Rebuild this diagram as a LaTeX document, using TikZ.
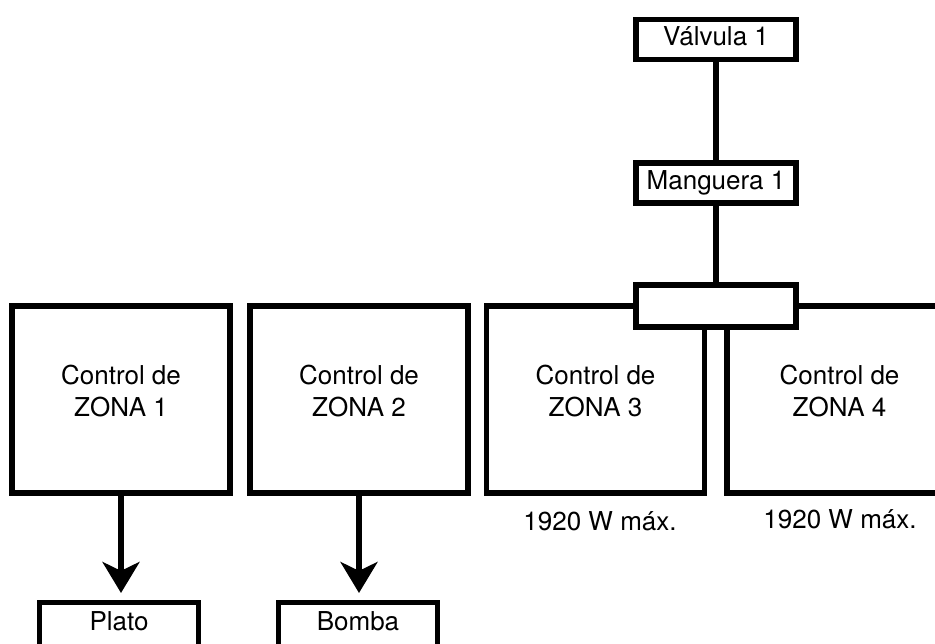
\documentclass[tikz,border=0pt]{standalone}
\usepackage{fontspec}
\setmainfont{TeX Gyre Heros}
\usetikzlibrary{arrows.meta}

\begin{document}
\begin{tikzpicture}[
  x=0.02cm, y=-0.02cm,
  font=\fontsize{14.8}{18.2}\selectfont,
  zonebox/.style ={draw, line width=3.1pt, fill=white, minimum width=4.36cm,
                   minimum height=3.74cm, align=center, text depth=0.34cm},
  smallbox/.style={draw, line width=3.1pt, fill=white, minimum width=3.2cm,
                   minimum height=0.8cm, inner sep=0pt,
                   text height=10.7pt, text depth=0.12cm},
  endbox/.style  ={draw, line width=3.1pt, fill=white, anchor=north,
                   minimum width=3.18cm, inner xsep=0pt, inner ysep=0.17cm,
                   text height=10.7pt, text depth=0.8cm},
  note/.style    ={anchor=base},
  conn/.style    ={line width=3.1pt},
  arr/.style     ={-{Stealth[length=17.6pt, width=21pt, inset=5pt]},
                   line width=3.1pt, shorten >=4pt}]
\useasboundingbox (0,0) rectangle (935,644);
\clip (0,0) rectangle (935,644);

\node[smallbox] (valvula)  at (716,39.5) {Válvula 1};
\node[smallbox] (manguera) at (716,183)  {Manguera 1};

\node[zonebox] (zona1) at (121,399.5)   {Control de\\ZONA 1};
\node[zonebox] (zona2) at (359,399.5)   {Control de\\ZONA 2};
\node[zonebox] (zona3) at (595.5,399.5) {Control de\\ZONA 3};
\node[zonebox, minimum width=4.5cm] (zona4) at (839.5,399.5) {Control de\\ZONA 4};

\node[smallbox, minimum height=0.84cm] (union) at (716,306) {};

\node[endbox] (plato) at (119,600) {Plato};
\node[endbox] (bomba) at (358,600) {Bomba};

\node[note] (max3) at (600,530) {1920 W máx.};
\node[note] (max4) at (840,528) {1920 W máx.};

\draw[conn] (valvula)  -- (manguera);
\draw[conn] (manguera) -- (union);
\draw[arr]  (zona1.south) -- (zona1.south |- plato.north);
\draw[arr]  (zona2.south) -- (zona2.south |- bomba.north);
\end{tikzpicture}
\end{document}
